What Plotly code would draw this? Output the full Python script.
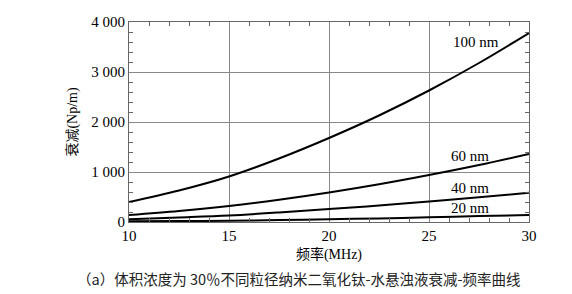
import plotly.graph_objects as go

freq = [10, 12.5, 15, 17.5, 20, 22.5, 25, 27.5, 30]
att_100 = [400, 630, 910, 1270, 1680, 2130, 2630, 3180, 3780]
att_60 = [140, 220, 320, 445, 590, 755, 940, 1140, 1360]
att_40 = [55, 90, 130, 190, 260, 330, 410, 495, 585]
att_20 = [15, 20, 25, 38, 55, 72, 95, 118, 140]
series = [("100 nm", att_100, 27.35, 3595), ("60 nm", att_60, 27.05, 1325),
          ("40 nm", att_40, 27.05, 683), ("20 nm", att_20, 27.05, 281)]

SERIF = "Liberation Serif, Times New Roman, serif"
fig = go.Figure()
for name, vals, lx, ly in series:
    fig.add_trace(go.Scatter(x=freq, y=vals, mode="lines", line=dict(color="black", width=2, shape="spline"),
                             name=name, showlegend=False))
    fig.add_annotation(x=lx, y=ly, text=name, showarrow=False,
                       font=dict(family=SERIF, size=15, color="black"))

axis_common = dict(showline=True, linecolor="#666", linewidth=1, mirror="ticks",
                   showgrid=True, gridcolor="#888", gridwidth=1, zeroline=False,
                   ticks="inside", ticklen=0, tickcolor="#666",
                   tickfont=dict(family=SERIF, size=15, color="black"))
fig.update_xaxes(range=[10, 30], dtick=5, tick0=10,
                 minor=dict(dtick=1, ticks="inside", ticklen=4, tickcolor="#666", showgrid=False),
                 title=dict(text="频率(MHz)", font=dict(family="Liberation Serif, Noto Sans CJK SC", size=14, color="black"), standoff=6),
                 **axis_common)
fig.update_yaxes(range=[0, 4000], dtick=1000, tickformat=",d",
                 minor=dict(dtick=200, ticks="inside", ticklen=4, tickcolor="#666", showgrid=False),
                 title=dict(text="衰减(Np/m)", font=dict(family="Liberation Serif, Noto Sans CJK SC", size=14, color="black"), standoff=10),
                 **axis_common)
fig.add_annotation(xref="paper", yref="paper", x=0.425, y=-0.28, yanchor="middle", xanchor="center",
                   text="（a）体积浓度为 30％不同粒径纳米二氧化钛-水悬浊液衰减-频率曲线", showarrow=False,
                   font=dict(family="Noto Sans CJK SC", size=14.5, color="#222"))
fig.update_layout(width=572, height=294, margin=dict(l=129, r=43, t=22, b=72),
                  paper_bgcolor="white", plot_bgcolor="white", separators=". ",
                  font=dict(family=SERIF, color="black"))
fig.write_html("out.html")
